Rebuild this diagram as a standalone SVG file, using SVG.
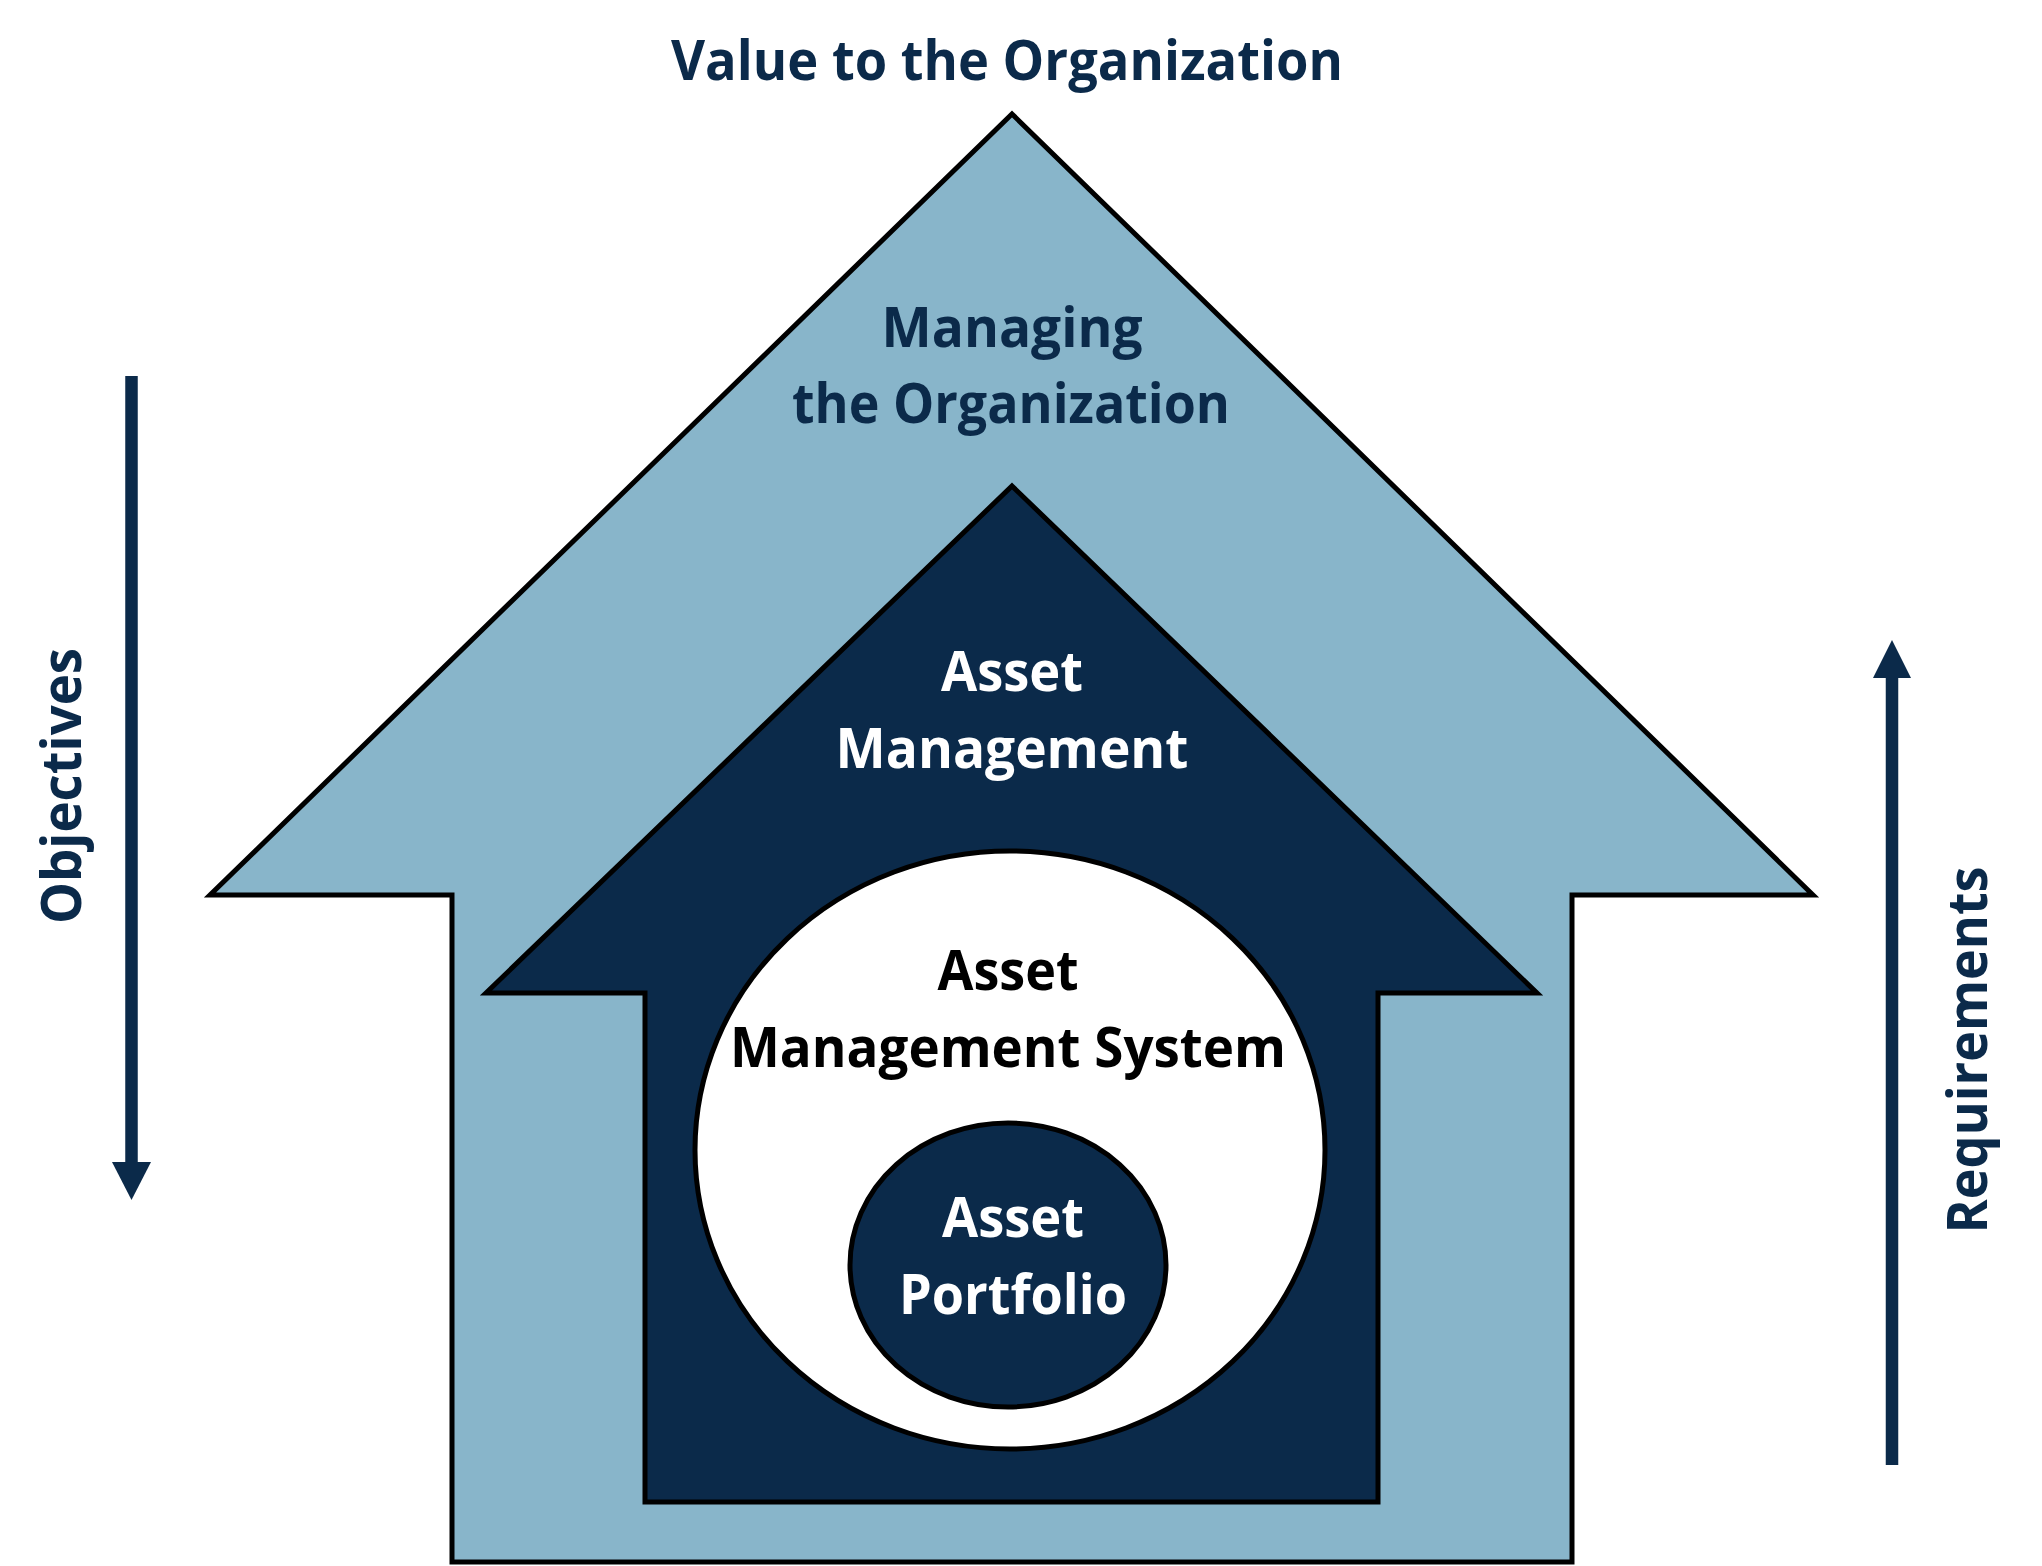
<svg xmlns="http://www.w3.org/2000/svg" width="2042" height="1566" viewBox="0 0 2042 1566">
  <style>
    .shape { stroke: #000000; stroke-width: 5; stroke-linejoin: miter; }
    .light { fill: #88B5CA; }
    .dark { fill: #0B2A4A; }
    .white { fill: #FFFFFF; }
    .lbl { font-family: "Open Sans", "Noto Sans", "Liberation Sans", sans-serif; font-weight: 700; font-size: 56px; text-anchor: middle; }
    .navy { fill: #0B2A4A; }
    .wtxt { fill: #FFFFFF; }
    .btxt { fill: #000000; }
    .flow { stroke: #0B2A4A; stroke-width: 12.5; fill: none; }
    .head { fill: #0B2A4A; }
  </style>
  <rect width="2042" height="1566" fill="#FFFFFF"/>

  <g id="title">
    <text class="lbl navy" x="1007" y="80" textLength="672" lengthAdjust="spacingAndGlyphs">Value to the Organization</text>
  </g>

  <g id="managing-organization">
    <polygon class="shape light" points="1012,114 1813,895 1572,895 1572,1562 452,1562 452,895 210,895"/>
    <text class="lbl navy" x="1012" y="347" textLength="261" lengthAdjust="spacingAndGlyphs">Managing</text>
    <text class="lbl navy" x="1011" y="423" textLength="438" lengthAdjust="spacingAndGlyphs">the Organization</text>
  </g>

  <g id="asset-management">
    <polygon class="shape dark" points="1012,486 1537,993 1378,993 1378,1502 645,1502 645,993 486,993"/>
    <text class="lbl wtxt" x="1012" y="691" textLength="142" lengthAdjust="spacingAndGlyphs">Asset</text>
    <text class="lbl wtxt" x="1012" y="768" textLength="353" lengthAdjust="spacingAndGlyphs">Management</text>
  </g>

  <g id="asset-management-system">
    <ellipse class="shape white" cx="1010" cy="1150" rx="315" ry="299"/>
    <text class="lbl btxt" x="1008" y="990" textLength="141" lengthAdjust="spacingAndGlyphs">Asset</text>
    <text class="lbl btxt" x="1008" y="1067" textLength="556" lengthAdjust="spacingAndGlyphs">Management System</text>
  </g>

  <g id="asset-portfolio">
    <ellipse class="shape dark" cx="1008" cy="1265" rx="158" ry="142"/>
    <text class="lbl wtxt" x="1013" y="1237" textLength="142" lengthAdjust="spacingAndGlyphs">Asset</text>
    <text class="lbl wtxt" x="1013" y="1314" textLength="228" lengthAdjust="spacingAndGlyphs">Portfolio</text>
  </g>

  <g id="connectors">
    <g id="objectives-arrow">
      <line class="flow" x1="131.5" y1="376" x2="131.5" y2="1164"/>
      <polygon class="head" points="112,1162 151,1162 131.5,1200"/>
    </g>
    <g id="requirements-arrow">
      <line class="flow" x1="1892" y1="1465" x2="1892" y2="676"/>
      <polygon class="head" points="1873,678 1911,678 1892,640"/>
    </g>
  </g>

  <g id="objectives-label">
    <text class="lbl navy" transform="translate(81,786) rotate(-90)" x="0" y="0" textLength="276" lengthAdjust="spacingAndGlyphs">Objectives</text>
  </g>
  <g id="requirements-label">
    <text class="lbl navy" transform="translate(1987,1050) rotate(-90)" x="0" y="0" textLength="367" lengthAdjust="spacingAndGlyphs">Requirements</text>
  </g>
</svg>
